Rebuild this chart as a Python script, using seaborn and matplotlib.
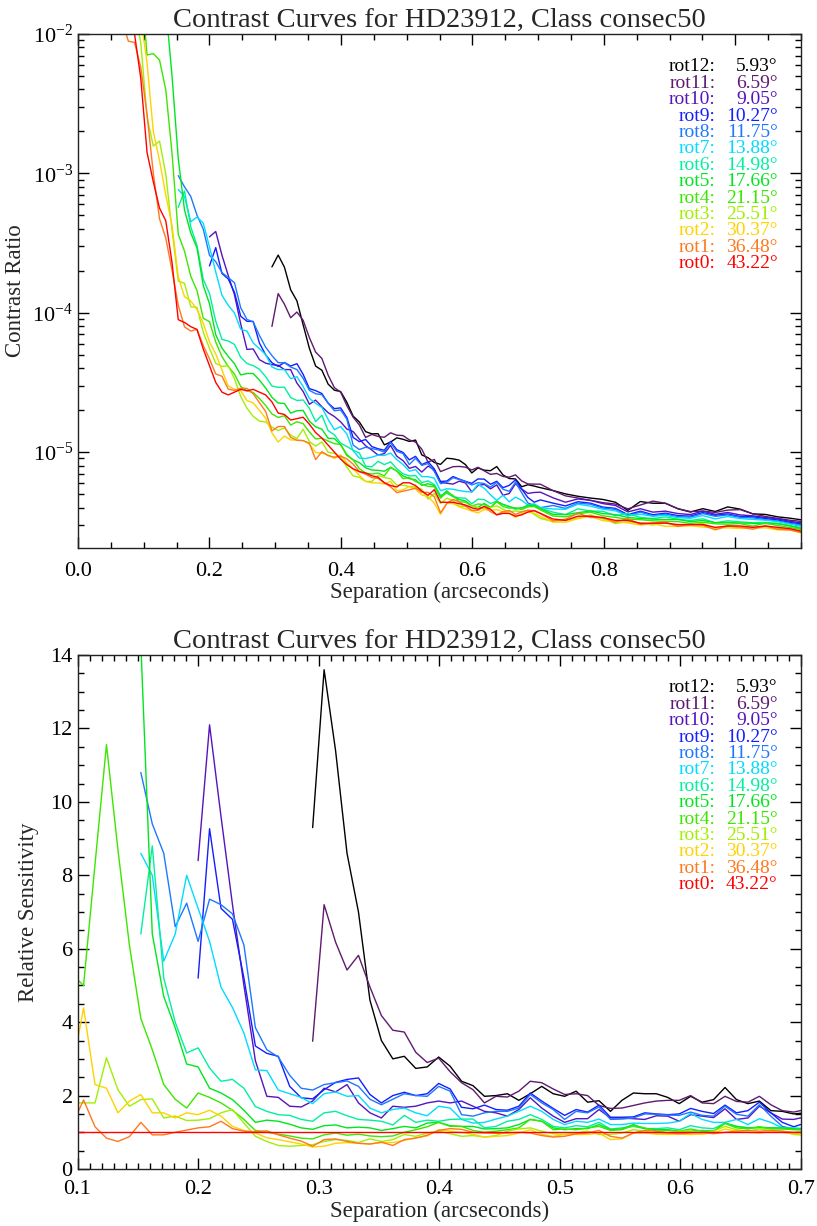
import numpy as np
import pandas as pd
import matplotlib
matplotlib.use("Agg")
import matplotlib.pyplot as plt
import seaborn as sns
from matplotlib.ticker import MultipleLocator, LogLocator, FormatStrFormatter, NullFormatter

nan = np.nan

# separation grid in arcsec (0.0095" steps, every second step beyond 0.7")
k_idx = np.concatenate([np.arange(-14, 54), np.arange(55, 97, 2)])
separation = np.round(0.2 + 0.0095 * k_idx, 4)

names = ['rot12', 'rot11', 'rot10', 'rot9', 'rot8', 'rot7', 'rot6',
         'rot5', 'rot4', 'rot3', 'rot2', 'rot1', 'rot0']
angles = [5.93, 6.59, 9.05, 10.27, 11.75, 13.88, 14.98,
          17.66, 21.15, 25.51, 30.37, 36.48, 43.22]
colors = ['#000000', '#5f1a6e', '#5514be', '#141eff', '#1e78ff', '#00dcff', '#00f0a0',
          '#00e61e', '#3ce600', '#a0f000', '#ffd200', '#ff781e', '#ff0000']

# rot0 contrast (log10) - the reference curve
rot0_log = [-1.6, -1.8, -2.0, -2.32, -2.85, -3.06, -3.25, -3.34, -3.64, -4.05,
            -4.07, -4.10, -4.12, -4.26, -4.38, -4.50, -4.57, -4.59, -4.57, -4.55,
            -4.56, -4.55, -4.57, -4.59, -4.64, -4.72, -4.73, -4.77, -4.76, -4.75,
            -4.80, -4.86, -4.90, -4.95, -5.00, -5.05, -5.09, -5.12, -5.14, -5.15,
            -5.17, -5.18, -5.22, -5.24, -5.25, -5.22, -5.22, -5.24, -5.28, -5.31,
            -5.27, -5.36, -5.36, -5.36, -5.37, -5.38, -5.40, -5.41, -5.39, -5.41,
            -5.45, -5.44, -5.44, -5.46, -5.45, -5.43, -5.42, -5.44,
            -5.48, -5.49, -5.46, -5.46, -5.47, -5.49, -5.49, -5.51, -5.51, -5.51,
            -5.52, -5.52, -5.52, -5.54, -5.53, -5.53, -5.54, -5.53, -5.54, -5.55, -5.57]

# relative sensitivity (contrast / rot0 contrast) for each rotation
rel_rot1 = [0.5, 0.56, 0.87, 1.2, 1.88, 1.15, 0.84, 0.75, 0.88, 1.27,
            0.93, 0.93, 1.0, 1.06, 1.12, 1.15, 1.3, 1.1, 1.03, 1.02,
            1.04, 0.93, 0.84, 0.76, 0.62, 0.8, 0.82, 0.75, 0.7, 0.68,
            0.73, 0.64, 0.8, 0.84, 0.92, 1.05, 1.1, 1.08, 1.0, 0.98,
            0.97, 0.98, 1.0, 0.98, 0.91, 0.87, 0.89, 0.96, 0.98, 1.05,
            0.89, 0.84, 0.98, 1.05, 1.03, 0.98, 0.96, 0.98, 1.0, 0.96,
            1.0, 1.03, 1.05, 1.03, 1.05, 1.03, 1.0, 1.0,
            0.97, 1.02, 1.05, 0.98, 1.0, 0.97, 1.03, 0.98, 1.0, 1.02,
            0.97, 1.0, 0.99, 0.96, 1.0, 0.98, 0.97, 1.0, 0.97, 0.98, 0.98]
rel_rot2 = [2.0, 2.0, 2.0, 2.7, 4.39, 2.3, 2.2, 1.53, 1.85, 2.03,
            1.53, 1.53, 1.39, 1.53, 1.48, 1.6, 1.44, 1.16, 1.05, 0.98,
            0.85, 0.8, 0.74, 0.68, 0.6, 0.62, 0.7, 0.72, 0.7, 0.68,
            0.72, 0.72, 0.78, 0.85, 0.9, 1.07, 1.03, 1.0, 0.94, 0.87,
            0.89, 0.91, 0.98, 1.07, 0.94, 0.89, 0.94, 0.94, 0.94, 0.98,
            0.8, 0.82, 0.98, 0.98, 0.95, 0.94, 0.95, 0.94, 0.95, 0.98,
            1.09, 1.03, 1.0, 0.98, 1.02, 1.0, 0.96, 0.95,
            0.95, 0.97, 0.96, 1.0, 0.95, 0.98, 0.96, 0.97, 0.99, 0.95,
            0.97, 0.98, 0.96, 0.99, 0.97, 0.96, 0.99, 0.97, 0.96, 0.98, 0.97]
rel_rot3 = [1.5, 1.5, 1.5, 1.8, 1.8, 1.8, 3.03, 2.16, 1.71, 1.89,
            1.91, 1.39, 1.44, 1.32, 1.33, 1.37, 1.53, 1.62, 1.25, 0.89,
            0.75, 0.64, 0.62, 0.64, 0.66, 0.75, 0.8, 0.78, 0.72, 0.82,
            0.75, 0.8, 0.94, 0.89, 0.98, 1.03, 0.96, 0.89, 0.91, 0.87,
            0.91, 1.03, 1.09, 1.12, 1.03, 0.96, 0.94, 0.98, 1.03, 0.94,
            0.94, 0.98, 1.07, 1.03, 0.96, 0.98, 1.03, 1.03, 0.96, 1.03,
            1.16, 1.07, 1.03, 1.09, 1.05, 1.03, 0.94, 0.92,
            0.96, 1.0, 0.97, 1.02, 0.98, 0.95, 0.98, 1.0, 0.97, 1.01,
            0.98, 0.99, 1.02, 0.98, 1.0, 0.97, 1.0, 0.99, 0.98, 0.99, 1.0]
rel_rot4 = [8.0, 8.0, 6.0, 5.3, 5.0, 8.3, 11.56, 8.7, 6.1, 4.1,
            3.25, 2.3, 1.9, 1.66, 2.07, 1.95, 1.8, 1.6, 1.35, 1.05,
            1.0, 0.95, 0.9, 0.84, 0.82, 0.93, 0.98, 0.92, 0.95, 0.9,
            0.88, 0.9, 1.0, 1.07, 1.15, 1.27, 1.16, 1.16, 1.05, 1.0,
            1.03, 1.07, 1.12, 1.35, 1.3, 1.07, 1.09, 1.07, 1.12, 1.16,
            1.05, 1.07, 1.18, 1.12, 1.03, 1.05, 1.03, 1.09, 1.03, 1.03,
            1.24, 1.12, 1.09, 1.15, 1.09, 1.09, 1.07, 1.06,
            1.05, 1.06, 1.04, 1.07, 1.03, 1.05, 1.02, 1.06, 1.04, 1.03,
            1.05, 1.02, 1.04, 1.06, 1.03, 1.04, 1.02, 1.05, 1.03, 1.02, 1.03]
rel_rot5 = [40, 40, 40, 40, 40, 40, 40, 34.7, 21.9, 14.3,
            6.4, 4.7, 3.85, 2.86, 2.78, 2.2, 2.07, 1.89, 1.6, 1.27,
            1.33, 1.3, 1.22, 1.12, 1.08, 1.18, 1.2, 1.12, 1.14, 1.12,
            1.05, 1.1, 1.16, 1.12, 1.25, 1.27, 1.18, 1.16, 1.16, 1.09,
            1.1, 1.12, 1.21, 1.35, 1.3, 1.12, 1.07, 1.1, 1.1, 1.21,
            1.07, 1.09, 1.21, 1.1, 1.07, 1.07, 1.03, 1.03, 1.05, 1.03,
            1.25, 1.16, 1.12, 1.14, 1.12, 1.12, 1.09, 1.08,
            1.08, 1.1, 1.06, 1.09, 1.07, 1.1, 1.05, 1.08, 1.07, 1.06,
            1.09, 1.05, 1.07, 1.08, 1.06, 1.05, 1.07, 1.04, 1.06, 1.05, 1.04]
rel_rot6 = [nan] * 9 + [6.4,
            8.8, 5.2, 4.0, 3.16, 3.3, 2.75, 2.39, 2.44, 2.2, 1.7,
            1.57, 1.48, 1.46, 1.35, 1.3, 1.53, 1.57, 1.45, 1.35, 1.33,
            1.3, 1.2, 1.46, 1.27, 1.33, 1.3, 1.35, 1.36, 1.36, 1.12,
            1.16, 1.3, 1.35, 1.48, 1.35, 1.16, 1.12, 1.18, 1.15, 1.27,
            1.09, 1.12, 1.16, 1.1, 1.1, 1.12, 1.07, 1.18, 1.12, 1.1,
            1.25, 1.16, 1.12, 1.12, 1.12, 1.1, 1.1, 1.09,
            1.12, 1.1, 1.13, 1.09, 1.11, 1.08, 1.12, 1.1, 1.08, 1.11,
            1.09, 1.07, 1.1, 1.08, 1.09, 1.07, 1.08, 1.06, 1.07, 1.05, 1.06]
rel_rot7 = [nan] * 9 + [8.6,
            8.0, 5.66, 6.4, 8.0, 7.1, 6.2, 4.95, 4.4, 3.7, 2.7,
            2.68, 2.15, 2.05, 1.95, 1.78, 2.05, 2.1, 1.98, 2.0, 1.66,
            1.53, 1.62, 1.66, 1.53, 1.45, 1.71, 1.66, 1.35, 1.25, 1.27,
            1.36, 1.44, 1.57, 1.71, 1.57, 1.35, 1.21, 1.3, 1.27, 1.36,
            1.21, 1.21, 1.25, 1.24, 1.24, 1.25, 1.3, 1.51, 1.35, 1.27,
            1.27, 1.35, 1.21, 1.37, 1.27, 1.12, 1.12, 1.1,
            1.18, 1.2, 1.22, 1.18, 1.15, 1.17, 1.08, 1.16, 1.12, 1.14,
            1.12, 1.11, 1.16, 1.15, 1.17, 1.13, 1.14, 1.1, 1.1, 1.08, 1.09]
rel_rot8 = [nan] * 9 + [10.8,
            9.4, 8.6, 6.6, 7.24, 6.2, 7.35, 7.2, 6.95, 6.1, 3.85,
            3.25, 3.05, 2.55, 2.2, 2.15, 2.3, 2.35, 2.4, 2.25, 1.9,
            1.75, 1.9, 2.05, 2.0, 1.98, 2.25, 2.12, 1.48, 1.44, 1.53,
            1.57, 1.57, 1.66, 2.03, 1.8, 1.62, 1.35, 1.57, 1.53, 1.69,
            1.35, 1.36, 1.39, 1.5, 1.49, 1.47, 1.46, 1.55, 1.46, 1.44,
            1.71, 1.49, 1.44, 1.75, 1.44, 1.16, 1.09, 1.1,
            1.25, 1.22, 1.24, 1.22, 1.17, 1.2, 1.08, 1.2, 1.13, 1.16,
            1.14, 1.13, 1.2, 1.2, 1.2, 1.15, 1.17, 1.11, 1.11, 1.09, 1.11]
rel_rot9 = [nan] * 14 + [5.2, 9.27, 7.1, 6.8, 5.2, 3.35,
            3.15, 3.07, 2.25, 1.94, 1.91, 2.16, 2.36, 2.44, 2.48, 2.03,
            1.8, 2.0, 2.09, 2.0, 2.05, 2.33, 2.18, 1.68, 1.64, 1.74,
            1.62, 1.6, 1.71, 2.07, 1.85, 1.65, 1.46, 1.62, 1.55, 1.74,
            1.41, 1.41, 1.42, 1.53, 1.5, 1.48, 1.5, 1.65, 1.57, 1.51,
            1.74, 1.53, 1.59, 1.82, 1.53, 1.27, 1.15, 1.25,
            1.3, 1.27, 1.27, 1.24, 1.19, 1.22, 1.1, 1.22, 1.15, 1.18,
            1.16, 1.15, 1.22, 1.22, 1.22, 1.17, 1.19, 1.13, 1.13, 1.11, 1.13]
rel_rot10 = [nan] * 14 + [8.4, 12.1, 9.6, 7.2, 5.0, 2.95,
             1.98, 1.95, 1.71, 1.69, 1.85, 2.2, 2.1, 2.3, 1.8, 1.53,
             1.39, 1.71, 1.68, 1.71, 1.8, 1.85, 1.8, 1.85, 1.71, 1.57,
             1.53, 1.44, 1.62, 1.94, 1.66, 1.44, 1.27, 1.37, 1.37, 1.62,
             1.39, 1.39, 1.37, 1.35, 1.45, 1.44, 1.3, 1.48, 1.44, 1.4,
             1.64, 1.35, 1.39, 1.71, 1.53, 1.36, 1.35, 1.42,
             1.42, 1.35, 1.33, 1.3, 1.26, 1.28, 1.15, 1.27, 1.2, 1.22,
             1.2, 1.18, 1.25, 1.24, 1.25, 1.2, 1.21, 1.15, 1.15, 1.13, 1.15]
rel_rot11 = [nan] * 24 + [3.48, 7.2, 6.18, 5.42, 5.82, 4.96,
             4.18, 3.78, 3.73, 3.18, 2.9, 3.02, 2.65, 2.35, 2.16, 1.8,
             1.98, 1.96, 2.12, 2.39, 2.35, 2.18, 2.03, 2.05, 2.0, 1.73,
             1.65, 1.66, 1.73, 1.8, 1.85, 1.87, 1.87, 2.0, 1.8, 1.78,
             1.98, 1.84, 1.82, 1.98, 1.75, 1.59, 1.55, 1.62,
             1.6, 1.5, 1.35, 1.3, 1.28, 1.31, 1.21, 1.35, 1.44, 1.39,
             1.3, 1.24, 1.25, 1.28, 1.3, 1.31, 1.25, 1.17, 1.16, 1.15, 1.18]
rel_rot12 = [nan] * 24 + [9.3, 13.6, 11.4, 8.6, 7.0, 4.6,
             3.5, 3.0, 3.07, 2.74, 2.78, 3.05, 2.8, 2.39, 2.27, 1.98,
             2.0, 2.05, 1.87, 2.05, 2.25, 2.05, 1.98, 2.12, 1.82, 1.86,
             1.57, 1.87, 2.07, 2.05, 2.05, 1.95, 1.78, 1.98, 1.82, 1.89,
             2.22, 1.89, 1.78, 1.85, 1.59, 1.57, 1.5, 1.53,
             1.6, 1.55, 1.39, 1.35, 1.35, 1.35, 1.18, 1.43, 1.39, 1.39,
             1.3, 1.23, 1.3, 1.3, 1.37, 1.32, 1.25, 1.21, 1.19, 1.19, 1.21]

rot0 = 10 ** np.array(rot0_log)
rel = {'rot12': rel_rot12, 'rot11': rel_rot11, 'rot10': rel_rot10, 'rot9': rel_rot9,
       'rot8': rel_rot8, 'rot7': rel_rot7, 'rot6': rel_rot6, 'rot5': rel_rot5,
       'rot4': rel_rot4, 'rot3': rel_rot3, 'rot2': rel_rot2, 'rot1': rel_rot1,
       'rot0': list(rot0 / rot0)}

frames = []
for n in names:
    r = np.array(rel[n], dtype=float)
    frames.append(pd.DataFrame({'sep': separation, 'rel': r, 'contrast': r * rot0, 'rot': n}))
df = pd.concat(frames, ignore_index=True).dropna()

sns.set_style("ticks")
plt.rcParams['font.family'] = ['Liberation Serif', 'DejaVu Serif']
plt.rcParams['mathtext.fontset'] = 'custom'
plt.rcParams['mathtext.rm'] = 'Liberation Serif'
plt.rcParams['mathtext.it'] = 'Liberation Serif:italic'

palette = dict(zip(names, colors))
title = 'Contrast Curves for HD23912, Class consec50'

fig = plt.figure(figsize=(8.17, 12.26), dpi=100)
ax1 = fig.add_axes([0.0955, 0.553, 0.885, 0.4193])
ax2 = fig.add_axes([0.0949, 0.0465, 0.8855, 0.4192])

# top: contrast ratio
ax1.set_yscale('log')
sns.lineplot(data=df, x='sep', y='contrast', hue='rot', hue_order=names, palette=palette,
             estimator=None, sort=False, legend=False, linewidth=1.0, ax=ax1)
ax1.set_xlim(0, 1.1)
ax1.set_ylim(2.05e-6, 1e-2)
ax1.xaxis.set_major_locator(MultipleLocator(0.2))
ax1.xaxis.set_minor_locator(MultipleLocator(0.05))
ax1.xaxis.set_major_formatter(FormatStrFormatter('%.1f'))
ax1.yaxis.set_major_locator(LogLocator(base=10, numticks=10))
ax1.yaxis.set_minor_locator(LogLocator(base=10, subs=np.arange(2, 10), numticks=10))
ax1.yaxis.set_minor_formatter(NullFormatter())
ax1.set_xlabel('Separation (arcseconds)', fontsize=16.5, labelpad=1)
ax1.set_ylabel('Contrast Ratio', fontsize=16.5, labelpad=5)

# bottom: relative sensitivity
sns.lineplot(data=df, x='sep', y='rel', hue='rot', hue_order=names, palette=palette,
             estimator=None, sort=False, legend=False, linewidth=1.0, ax=ax2)
ax2.set_xlim(0.1, 0.7)
ax2.set_ylim(0, 14)
ax2.xaxis.set_major_locator(MultipleLocator(0.1))
ax2.xaxis.set_minor_locator(MultipleLocator(0.01))
ax2.xaxis.set_major_formatter(FormatStrFormatter('%.1f'))
ax2.yaxis.set_major_locator(MultipleLocator(2))
ax2.yaxis.set_minor_locator(MultipleLocator(0.5))
ax2.set_xlabel('Separation (arcseconds)', fontsize=16.5, labelpad=1)
ax2.set_ylabel('Relative Sensitivity', fontsize=16.5, labelpad=8)

for ax, xpad in ((ax1, 10), (ax2, 8)):
    ax.set_title(title, fontsize=20.5, pad=5)
    ax.tick_params(which='both', direction='in', top=True, right=True, labelsize=16, colors='black')
    ax.tick_params(axis='x', which='major', pad=xpad)
    ax.tick_params(which='major', length=8, width=1)
    ax.tick_params(which='minor', length=4, width=1)
    for s in ax.spines.values():
        s.set_linewidth(1.0)
        s.set_color('#222222')
    # rotation legend, written as coloured text
    for i, (n, a, c) in enumerate(zip(names, angles, colors)):
        y = 0.936 - i * 0.0319
        ax.text(0.882, y, n + ':', color=c, fontsize=14, ha='right', va='center', transform=ax.transAxes)
        ax.text(0.968, y, f'{a:.2f}\u00b0', color=c, fontsize=14, ha='right', va='center', transform=ax.transAxes)

fig.savefig('out.png', dpi=100)
